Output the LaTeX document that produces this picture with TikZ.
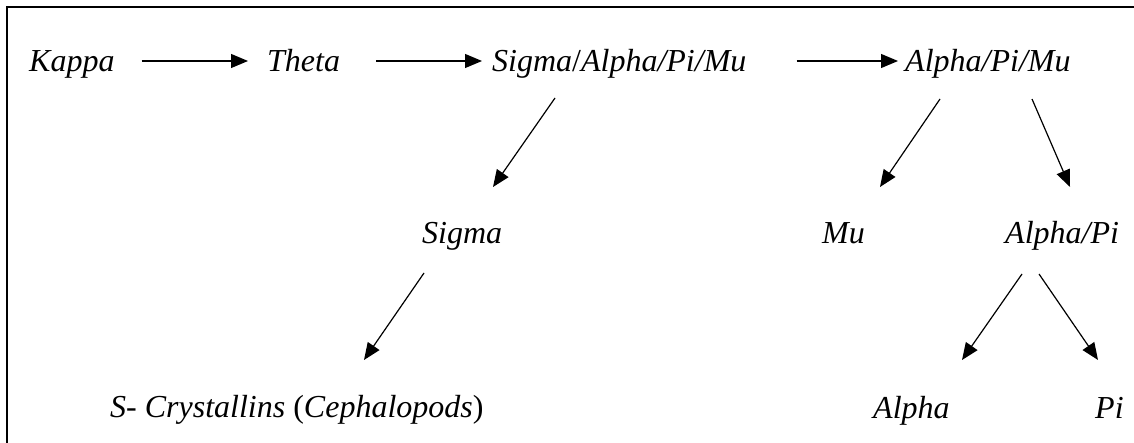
\documentclass[tikz,border=0pt]{standalone}
\usepackage{fontspec}
\setmainfont{Liberation Serif}
\usetikzlibrary{arrows.meta,calc}

\tikzset{
  lbl/.style={anchor=base west, inner sep=0pt, font=\fontsize{32}{38}\selectfont\itshape},
  arr/.style={line width=1.2pt, -{Triangle[length=17pt,width=14pt]}},
  frame/.style={line width=2.2pt, line cap=rect}
}

\begin{document}
\begin{tikzpicture}[x=1pt, y=-1pt]
  \useasboundingbox (0,0) rectangle (1134,443);
  % open frame: left and top edges
  \draw[frame] (7,443) -- (7,7) -- (1134,7);

  % top row
  \node[lbl] (kappa) at (29,72) {Kappa};
  \node[lbl] (theta) at (267,72) {Theta};
  \node[lbl] (spam)  at (492,72) {Sigma\upshape/\itshape Alpha/Pi/Mu};
  \node[lbl] (apm)   at (905,72) {Alpha/Pi/Mu};

  % middle row
  \node[lbl] (sigma) at (422,244) {Sigma};
  \node[lbl] (mu)    at (822,244) {Mu};
  \node[lbl] (ap)    at (1005,244) {Alpha/Pi};

  % bottom row
  \node[lbl] (scr)   at (110,417) {S- Crystallins \upshape(\itshape Cephalopods\upshape)};
  \node[lbl] (alpha) at (873,418) {Alpha};
  \node[lbl] (pi)    at (1095,418) {Pi};

  % horizontal chain
  \draw[arr] ($(kappa.base east)+(27,-11)$) -- ($(theta.base west)+(-19,-11)$);
  \draw[arr] ($(theta.base east)+(36,-11)$) -- ($(spam.base west)+(-10,-11)$);
  \draw[arr] ($(spam.base east)+(50,-11)$) -- ($(apm.base west)+(-7,-11)$);

  % branches
  \draw[arr] ($(spam.base west)+(63,26)$) -- ($(sigma.base west)+(71,-57)$);
  \draw[arr] ($(apm.base west)+(35,27)$) -- ($(mu.base west)+(58,-57)$);
  \draw[arr] ($(apm.base west)+(127,27)$) -- ($(ap.base west)+(65,-57)$);
  \draw[arr] ($(sigma.base west)+(2,29)$) -- ($(scr.base west)+(254,-57)$);
  \draw[arr] ($(ap.base west)+(17,30)$) -- ($(alpha.base west)+(89,-58)$);
  \draw[arr] ($(ap.base west)+(34,30)$) -- ($(pi.base west)+(3,-58)$);
\end{tikzpicture}
\end{document}
